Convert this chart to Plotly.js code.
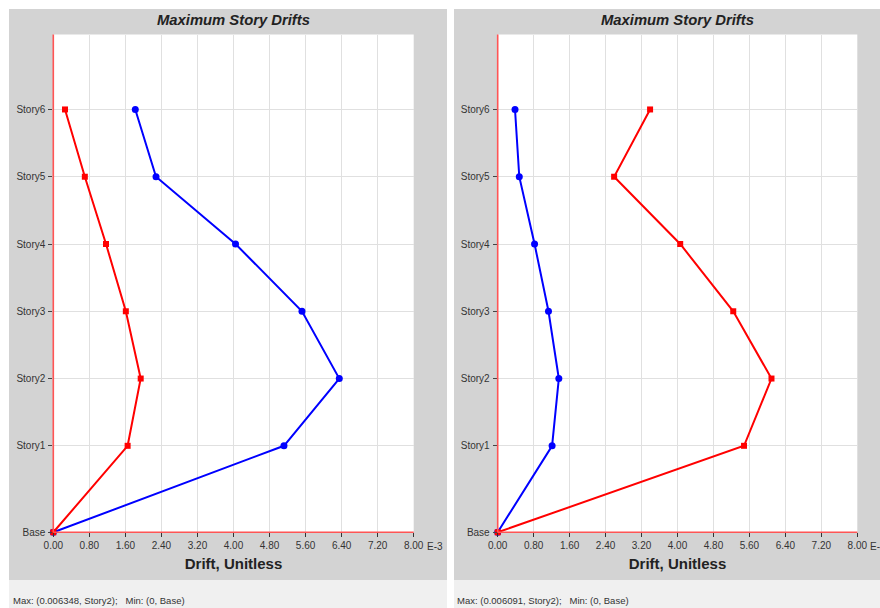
<!DOCTYPE html>
<html>
<head>
<meta charset="utf-8">
<script src="https://cdn.plot.ly/plotly-3.0.1.min.js"></script>
<style>
  html, body { margin: 0; padding: 0; background: #ffffff; }
  #chart { width: 880px; height: 608px; }
</style>
</head>
<body>
<div id="chart"></div>
<script>
// Story labels and their elevations (m) above the base
const stories = ['Base', 'Story1', 'Story2', 'Story3', 'Story4', 'Story5', 'Story6'];
const elevations = [0, 4.5, 8, 11.5, 15, 18.5, 22];

// Drift ticks (unitless) and their labels in units of E-3
const driftTicks = [0, 0.0008, 0.0016, 0.0024, 0.0032, 0.004, 0.0048, 0.0056, 0.0064, 0.0072, 0.008];
const driftTickText = ['0.00', '0.80', '1.60', '2.40', '3.20', '4.00', '4.80', '5.60', '6.40', '7.20', '8.00'];

// Left panel: maximum story drifts
const leftBlue = [0, 0.00512, 0.006348, 0.00552, 0.004045, 0.00228, 0.00182];
const leftRed  = [0, 0.00165, 0.00194, 0.00161, 0.00117, 0.00070, 0.00026];

// Right panel: maximum story drifts
const rightBlue = [0, 0.00121, 0.00136, 0.00113, 0.00082, 0.00048, 0.000385];
const rightRed  = [0, 0.00548, 0.006091, 0.00524, 0.00406, 0.00259, 0.00339];

const FONT = '"Liberation Sans", Arial, sans-serif';
const AXIS_RED = 'rgb(255,85,85)';
const W = 880, H = 608;
const px = v => v / W;
const py = v => 1 - v / H;

function maxInfo(seriesList) {
  let best = -Infinity, idx = 0;
  seriesList.forEach(s => s.forEach((v, i) => { if (v > best) { best = v; idx = i; } }));
  let min = Infinity, minIdx = 0;
  seriesList.forEach(s => s.forEach((v, i) => { if (v < min) { min = v; minIdx = i; } }));
  return `Max: (${best.toFixed(6)}, ${stories[idx]});   Min: (${min}, ${stories[minIdx]})`;
}

function traces(blue, red, xa, ya) {
  return [
    {
      x: blue, y: elevations, xaxis: xa, yaxis: ya, type: 'scatter', mode: 'lines+markers',
      line: { color: '#0000ff', width: 2 },
      marker: { color: '#0000ff', size: 7, symbol: 'circle' },
      cliponaxis: false, hoverinfo: 'x+y'
    },
    {
      x: red, y: elevations, xaxis: xa, yaxis: ya, type: 'scatter', mode: 'lines+markers',
      line: { color: '#ff0000', width: 2 },
      marker: { color: '#ff0000', size: 6, symbol: 'square' },
      cliponaxis: false, hoverinfo: 'x+y'
    }
  ];
}

function xAxis(domain, anchor) {
  return {
    domain: domain, anchor: anchor, range: [0, 0.008],
    tickmode: 'array', tickvals: driftTicks, ticktext: driftTickText,
    ticks: 'outside', ticklen: 4, tickcolor: '#333333', tickwidth: 1,
    tickfont: { family: FONT, size: 10, color: '#333333' },
    showgrid: true, gridcolor: '#e0e0e0', gridwidth: 1,
    showline: false, zeroline: false, fixedrange: true,
    title: { text: '<b>Drift, Unitless</b>', font: { family: FONT, size: 15, color: '#222222' }, standoff: 8 }
  };
}

function yAxis(domain, anchor) {
  return {
    domain: domain, anchor: anchor, range: [0, 25.9],
    tickmode: 'array', tickvals: elevations, ticktext: stories,
    ticks: 'outside', ticklen: 4, tickcolor: '#444444', tickwidth: 1,
    ticklabelstandoff: 1,
    tickfont: { family: FONT, size: 10, color: '#333333' },
    showgrid: true, gridcolor: '#e0e0e0', gridwidth: 1,
    showline: false, zeroline: false, fixedrange: true
  };
}

const yDom = [py(532.3), py(34.5)];
const xDomL = [px(53.3), px(413.7)];
const xDomR = [px(497.7), px(857.3)];

const data = [
  ...traces(leftBlue, leftRed, 'x', 'y'),
  ...traces(rightBlue, rightRed, 'x2', 'y2')
];

function rect(x0, x1, y0, y1, fill) {
  return { type: 'rect', xref: 'paper', yref: 'paper', x0, x1, y0, y1,
           fillcolor: fill, line: { width: 0 }, layer: 'below' };
}

// red left and bottom border of a plotting area
function borderLines(xDom) {
  return [
    { type: 'line', xref: 'paper', yref: 'paper', x0: xDom[0], x1: xDom[0], y0: yDom[0], y1: yDom[1],
      line: { color: AXIS_RED, width: 1.6 }, layer: 'above' },
    { type: 'line', xref: 'paper', yref: 'paper', x0: xDom[0], x1: xDom[1], y0: yDom[0], y1: yDom[0],
      line: { color: AXIS_RED, width: 1.6 }, layer: 'above' }
  ];
}

const panelShapes = [
  // grey panel backgrounds
  rect(px(9), px(447), py(580), py(9), '#d3d3d3'),
  rect(px(454), px(880), py(580), py(9), '#d3d3d3'),
  // status strips
  rect(px(9), px(447), 0, py(580), '#f0f0f0'),
  rect(px(454), px(880), 0, py(580), '#f0f0f0'),
  // white plotting areas
  rect(xDomL[0], xDomL[1], yDom[0], yDom[1], '#ffffff'),
  rect(xDomR[0], xDomR[1], yDom[0], yDom[1], '#ffffff'),
  ...borderLines(xDomL),
  ...borderLines(xDomR)
];

function titleAnn(xDom) {
  return {
    xref: 'paper', yref: 'paper', x: (xDom[0] + xDom[1]) / 2, y: py(20.5),
    xanchor: 'center', yanchor: 'middle', showarrow: false,
    text: 'Maximum Story Drifts',
    font: { family: FONT, size: 14.8, color: '#222222', weight: 'bold', style: 'italic' }
  };
}

function expAnn(xa) {
  return {
    xref: xa, yref: 'paper', x: 0.008, y: py(546), xshift: 11,
    xanchor: 'left', yanchor: 'middle', showarrow: false,
    text: 'E-3', font: { family: FONT, size: 10, color: '#333333' }
  };
}

function statusAnn(xPix, text) {
  return {
    xref: 'paper', yref: 'paper', x: px(xPix), y: py(600.5),
    xanchor: 'left', yanchor: 'middle', showarrow: false,
    text: text, font: { family: FONT, size: 9.5, color: '#333333' }
  };
}

const layout = {
  width: W, height: H,
  margin: { l: 0, r: 0, t: 0, b: 0 },
  paper_bgcolor: '#ffffff', plot_bgcolor: 'rgba(0,0,0,0)',
  showlegend: false,
  xaxis: xAxis(xDomL, 'y'),
  yaxis: yAxis(yDom, 'x'),
  xaxis2: xAxis(xDomR, 'y2'),
  yaxis2: yAxis(yDom, 'x2'),
  shapes: panelShapes,
  annotations: [
    titleAnn(xDomL), titleAnn(xDomR),
    expAnn('x'), expAnn('x2'),
    statusAnn(11, maxInfo([leftBlue, leftRed])),
    statusAnn(455, maxInfo([rightBlue, rightRed]))
  ]
};

Plotly.newPlot('chart', data, layout, { displayModeBar: false, staticPlot: true });
</script>
</body>
</html>
